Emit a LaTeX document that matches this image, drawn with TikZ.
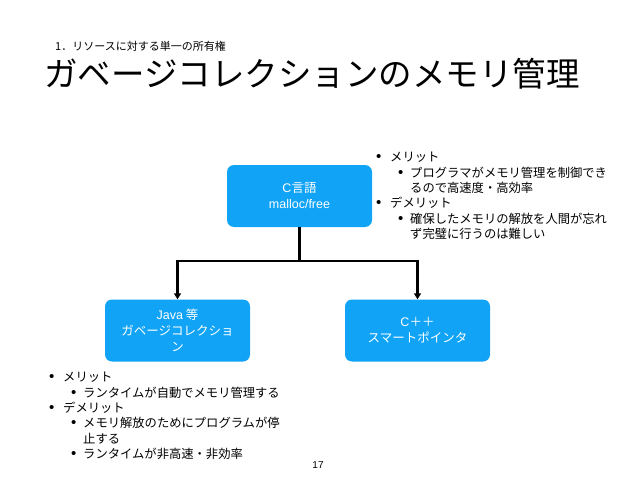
\documentclass[tikz,border=0pt]{standalone}
\usepackage{fontspec}
\setmainfont{Noto Sans CJK JP}
\newfontfamily\latfont{Liberation Sans}
\usetikzlibrary{positioning,arrows.meta}

\definecolor{boxblue}{RGB}{17,163,245}
\newcommand{\bigdot}{{\latfont\fontsize{15}{15}\selectfont\textbullet}}
\newcommand{\itemone}{\makebox[14pt][l]{\bigdot}}
\newcommand{\itemtwo}{\hspace*{22pt}\makebox[12pt][l]{\bigdot}}
\newcommand{\itemcont}{\hspace*{34pt}}

\begin{document}
\begin{tikzpicture}[
  x=1pt,y=-1pt,
  box/.style={fill=boxblue,rounded corners=7pt,minimum width=145pt,minimum height=62pt,align=center,text=white,font=\fontsize{12.5}{16}\selectfont},
  note/.style={anchor=north west,inner sep=0pt,align=left,font=\fontsize{12.3}{15.4}\selectfont},
  line/.style={line width=2.2pt},
  arr/.style={line width=2.2pt,-{Triangle[length=6pt,width=7pt]}}
]
\useasboundingbox (0,0) rectangle (638,479);

\node[anchor=west,inner sep=0pt,font=\fontsize{11}{13}\selectfont] (subtitle) at (55,46) {1．リソースに対する単一の所有権};
\node[inner sep=0pt,font=\fontsize{33.5}{36}\selectfont] (title) at (312,74) {ガベージコレクションのメモリ管理};

\node[box] (cbox) at (299.5,196) {{\latfont C}言語\\{\latfont malloc/free}};
\node[box] (java) at (177.5,330.5) {{\latfont Java} 等\\ガベージコレクショ\\ン};
\node[box] (cpp) at (417.5,330.5) {{\latfont C}＋＋\\スマートポインタ};

\coordinate (split) at (299.5,261);
\draw[line] (cbox.south) -- (split);
\draw[arr] (split) -| (java.north);
\draw[arr] (split) -| (cpp.north);

% notes
\node[note] (cnote) at (376,152) {\itemone メリット\\
\itemtwo プログラマがメモリ管理を制御でき\\
\itemcont るので高速度・高効率\\
\itemone デメリット\\
\itemtwo 確保したメモリの解放を人間が忘れ\\
\itemcont ず完璧に行うのは難しい};
\node[note] (javanote) at (49,372) {\itemone メリット\\
\itemtwo ランタイムが自動でメモリ管理する\\
\itemone デメリット\\
\itemtwo メモリ解放のためにプログラムが停\\
\itemcont 止する\\
\itemtwo ランタイムが非高速・非効率};

\node[font=\latfont\fontsize{10}{12}\selectfont] (pagenum) at (318,465) {17};
\end{tikzpicture}
\end{document}
